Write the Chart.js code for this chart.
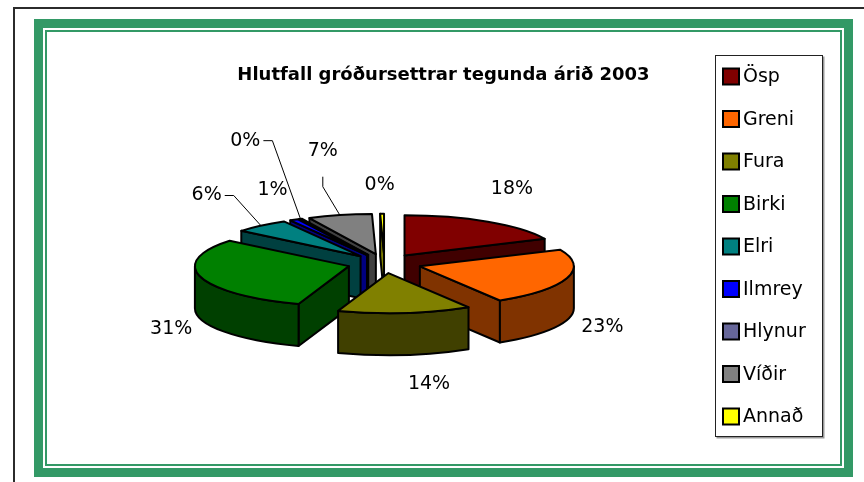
<!DOCTYPE html>
<html>
<head>
<meta charset="utf-8">
<script src="https://cdn.jsdelivr.net/npm/chart.js@4.4.1/dist/chart.umd.min.js"></script>
<style>
  body { margin: 0; background: #fff; }
  #wrap { position: relative; width: 864px; height: 482px; overflow: hidden; }
  .edge { position: absolute; left: 13px; top: 7px; right: 0; bottom: 0; border-top: 2px solid #2b2b2b; border-left: 2px solid #2b2b2b; }
  .frame { position: absolute; left: 34px; top: 19px; width: 819px; height: 458px; box-sizing: border-box; border: 9px solid #339966; }
  .frame div { position: absolute; left: 2px; top: 2px; right: 2px; bottom: 2px; border: 2px solid #339966; }
  #box { position: absolute; left: 0; top: 0; width: 864px; height: 482px; }
</style>
</head>
<body>
<div id="wrap">
  <div class="edge"></div>
  <div class="frame"><div></div></div>
  <div id="box"><canvas id="pie"></canvas></div>
</div>
<script>
const title = 'Hlutfall gróðursettrar tegunda árið 2003';
const labels = ['Ösp', 'Greni', 'Fura', 'Birki', 'Elri', 'Ilmrey', 'Hlynur', 'Víðir', 'Annað'];
const shares = [18.2, 23.1, 14.0, 30.6, 5.8, 0.9, 0.3, 6.7, 0.4];
const topColors = ['#800000', '#ff6600', '#808000', '#008000', '#008080', '#0000ff', '#666699', '#808080', '#ffff00'];
const sideColors = ['#400000', '#803300', '#404000', '#004000', '#004040', '#000080', '#33334d', '#404040', '#808000'];

// look of the 3d pie
const TILT = 0.26, DEPTH = 42, EXPLODE = 37;
const LABEL_RX = 230, LABEL_RY = 80;
// labels that Excel pushed away (with leader lines) or nudged
const labelShift = [[3, -7], [-2, -2], [20, -1], [8, 2], [-29, -7], [-3, -3], [-38, -51], [-8, -35], [-2, 2]];
const hasLeader = [false, false, false, false, true, false, true, true, false];
const FONT = '"Comic Sans MS", "DejaVu Sans", sans-serif';

function sliceGeo(arc) {
  const p = arc.getProps(['x', 'y', 'startAngle', 'endAngle', 'outerRadius']);
  const mid = (p.startAngle + p.endAngle) / 2;
  return {
    x: p.x, y: p.y, a0: p.startAngle, a1: p.endAngle, r: p.outerRadius, mid,
    cx: p.x + Math.cos(mid) * EXPLODE,
    cy: p.y + Math.sin(mid) * EXPLODE * TILT
  };
}

function drawSides(ctx, g, color) {
  const ry = g.r * TILT;
  ctx.fillStyle = color;
  const face = a => {
    const ex = g.cx + Math.cos(a) * g.r, ey = g.cy + Math.sin(a) * ry;
    ctx.beginPath();
    ctx.moveTo(g.cx, g.cy);
    ctx.lineTo(ex, ey);
    ctx.lineTo(ex, ey + DEPTH);
    ctx.lineTo(g.cx, g.cy + DEPTH);
    ctx.closePath();
    ctx.fill();
    ctx.stroke();
  };
  if (Math.cos(g.a0) < 0) face(g.a0);
  if (Math.cos(g.a1) > 0) face(g.a1);
  const s = Math.max(g.a0, 0), e = Math.min(g.a1, Math.PI);
  if (e > s) {
    ctx.beginPath();
    ctx.ellipse(g.cx, g.cy, g.r, ry, 0, s, e);
    ctx.ellipse(g.cx, g.cy + DEPTH, g.r, ry, 0, e, s, true);
    ctx.closePath();
    ctx.fill();
    ctx.stroke();
  }
}

class Pie3DController extends Chart.PieController {
  draw() {
    const ctx = this.chart.ctx;
    const arcs = this._cachedMeta.data;
    const parts = arcs.map((arc, i) => Object.assign(sliceGeo(arc), { arc, i }));
    // back to front
    parts.sort((a, b) => Math.sin(a.mid) - Math.sin(b.mid));
    ctx.save();
    ctx.lineWidth = 2;
    ctx.lineJoin = 'round';
    ctx.strokeStyle = '#000';
    parts.forEach(g => {
      drawSides(ctx, g, sideColors[g.i]);
      ctx.save();
      ctx.translate(g.cx, g.cy);
      ctx.scale(1, TILT);
      ctx.translate(-g.x, -g.y);
      g.arc.draw(ctx);
      ctx.beginPath();
      ctx.moveTo(g.x, g.y);
      ctx.arc(g.x, g.y, g.r, g.a0, g.a1);
      ctx.closePath();
      ctx.restore();
      ctx.stroke();
    });
    ctx.restore();
  }
}
Pie3DController.id = 'pie3d';
Pie3DController.defaults = Chart.PieController.defaults;
Chart.register(Pie3DController);

const decor = {
  id: 'decor',
  afterDraw(chart) {
    const ctx = chart.ctx;
    const meta = chart.getDatasetMeta(0);
    const total = shares.reduce((a, b) => a + b, 0);
    ctx.save();
    // title
    ctx.fillStyle = '#000';
    ctx.font = 'bold 18px ' + FONT;
    ctx.textAlign = 'center';
    ctx.textBaseline = 'middle';
    ctx.fillText(title, 443.5, 75);

    // percentage labels
    ctx.font = '19px ' + FONT;
    meta.data.forEach((arc, i) => {
      const g = sliceGeo(arc);
      const sn = Math.sin(g.mid);
      const lx = g.x + Math.cos(g.mid) * LABEL_RX + labelShift[i][0];
      const ly = g.y + sn * LABEL_RY + (sn > 0 ? DEPTH : 0) + labelShift[i][1];
      const txt = Math.round(shares[i] / total * 100) + '%';
      ctx.fillStyle = '#000';
      ctx.fillText(txt, lx, ly);
      if (hasLeader[i]) {
        const w = ctx.measureText(txt).width;
        const tx = g.cx + Math.cos(g.mid) * g.r;
        const ty = g.cy + Math.sin(g.mid) * g.r * TILT;
        ctx.beginPath();
        ctx.lineWidth = 1;
        ctx.strokeStyle = '#000';
        if (Math.abs(tx - lx) > w / 2 + 10) {
          const sx = lx + Math.sign(tx - lx) * (w / 2 + 3);
          ctx.moveTo(sx, ly);
          ctx.lineTo(sx + Math.sign(tx - lx) * 9, ly);
        } else {
          ctx.moveTo(lx, ly + 26);
          ctx.lineTo(lx, ly + 36);
        }
        ctx.lineTo(tx, ty);
        ctx.stroke();
      }
    });

    // legend box
    const bx = 715.5, by = 55.5, bw = 107, bh = 381;
    ctx.fillStyle = '#999';
    ctx.fillRect(bx + 1, by + 1, bw + 1, bh + 1);
    ctx.fillStyle = '#fff';
    ctx.fillRect(bx, by, bw, bh);
    ctx.lineWidth = 1;
    ctx.strokeStyle = '#222';
    ctx.strokeRect(bx, by, bw, bh);
    ctx.textAlign = 'left';
    ctx.font = '19px ' + FONT;
    labels.forEach((name, i) => {
      const y = 76.5 + i * 42.5;
      ctx.fillStyle = topColors[i];
      ctx.fillRect(723, y - 8, 16, 16);
      ctx.lineWidth = 2;
      ctx.strokeStyle = '#000';
      ctx.strokeRect(723, y - 8, 16, 16);
      ctx.fillStyle = '#000';
      ctx.fillText(name, 743, y + 1);
    });
    ctx.restore();
  }
};

new Chart(document.getElementById('pie'), {
  type: 'pie3d',
  data: {
    labels: labels,
    datasets: [{
      data: shares,
      backgroundColor: topColors,
      borderWidth: 0,
      offset: 0,
      clip: false
    }]
  },
  options: {
    responsive: true,
    maintainAspectRatio: false,
    animation: false,
    events: [],
    radius: 154,
    layout: { padding: { left: 30, right: 125, top: 100, bottom: 55 } },
    plugins: {
      legend: { display: false },
      tooltip: { enabled: false },
      title: { display: false }
    }
  },
  plugins: [decor]
});
</script>
</body>
</html>
